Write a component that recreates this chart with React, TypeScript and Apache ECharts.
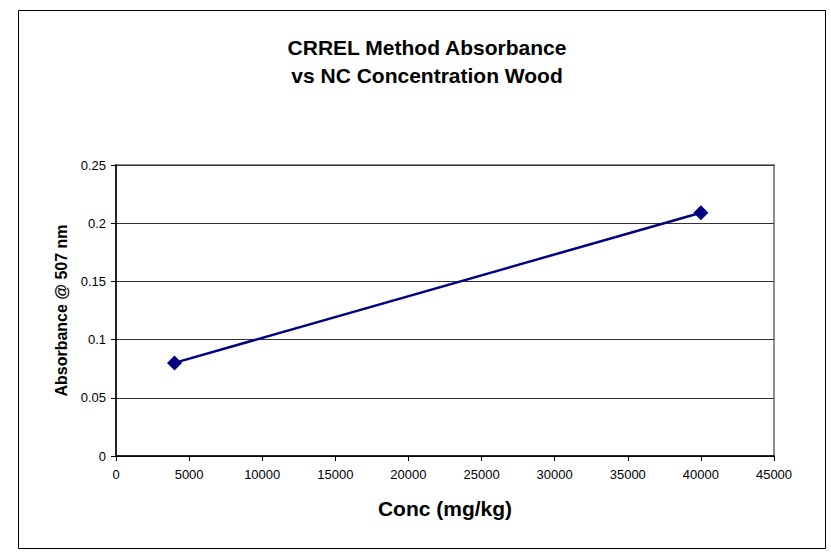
import React, { useEffect, useRef } from "react";
import * as echarts from "echarts";

const concValues = [4000, 40000];
const absorbanceValues = [0.08, 0.209];
const titleLines = ["CRREL Method Absorbance", "vs NC Concentration Wood"];
const xAxisName = "Conc (mg/kg)";
const yAxisName = "Absorbance @ 507 nm";

export default function App() {
  const ref = useRef<HTMLDivElement>(null);
  useEffect(() => {
    if (!ref.current) return;
    const chart = echarts.init(ref.current, null, { renderer: "svg" });
    const font = "Arial, 'Liberation Sans', sans-serif";
    chart.setOption({
      animation: false,
      backgroundColor: "#fff",
      textStyle: { fontFamily: font },
      graphic: [
        {
          type: "rect",
          shape: { x: 18.5, y: 10.5, width: 807, height: 538 },
          style: { fill: "none", stroke: "#000", lineWidth: 1 },
          silent: true,
          z: -1,
        },
      ],
      title: {
        text: titleLines.join("\n"),
        left: 422,
        textAlign: "center",
        top: 28,
        textStyle: {
          fontFamily: font,
          fontSize: 21,
          fontWeight: "bold",
          color: "#000",
          lineHeight: 28,
        },
      },
      grid: {
        left: 116,
        right: 57,
        top: 165,
        bottom: 98,
        show: true,
        borderColor: "#8c8c8c",
        borderWidth: 2,
        backgroundColor: "#fff",
      },
      xAxis: {
        type: "value",
        min: 0,
        max: 45000,
        interval: 5000,
        name: xAxisName,
        nameLocation: "middle",
        nameGap: 42,
        nameTextStyle: { fontFamily: font, fontSize: 21, fontWeight: "bold", color: "#000" },
        axisLine: { show: true, lineStyle: { color: "#000", width: 1.5 } },
        axisTick: { show: true, inside: false, length: 5, lineStyle: { color: "#000" } },
        axisLabel: {
          fontFamily: font,
          fontSize: 13,
          color: "#000",
          margin: 12,
          formatter: (v: number) => String(v),
        },
        splitLine: { show: false },
      },
      yAxis: {
        type: "value",
        min: 0,
        max: 0.25,
        interval: 0.05,
        name: yAxisName,
        nameLocation: "middle",
        nameGap: 45,
        nameTextStyle: { fontFamily: font, fontSize: 16, fontWeight: "bold", color: "#000" },
        axisLine: { show: true, lineStyle: { color: "#000", width: 1.5 } },
        axisTick: { show: true, inside: false, length: 5, lineStyle: { color: "#000" } },
        axisLabel: { fontFamily: font, fontSize: 13, color: "#000", margin: 10 },
        splitLine: { show: true, lineStyle: { color: "#333", width: 1 } },
      },
      series: [
        {
          type: "line",
          data: concValues.map((c, i) => [c, absorbanceValues[i]]),
          symbol: "diamond",
          symbolSize: 15,
          showSymbol: true,
          lineStyle: { color: "#000080", width: 2.5 },
          itemStyle: { color: "#000080" },
        },
      ],
    });
    return () => chart.dispose();
  }, []);
  return <div ref={ref} style={{ width: 831, height: 554, position: "absolute", left: 0, top: 0 }} />;
}
